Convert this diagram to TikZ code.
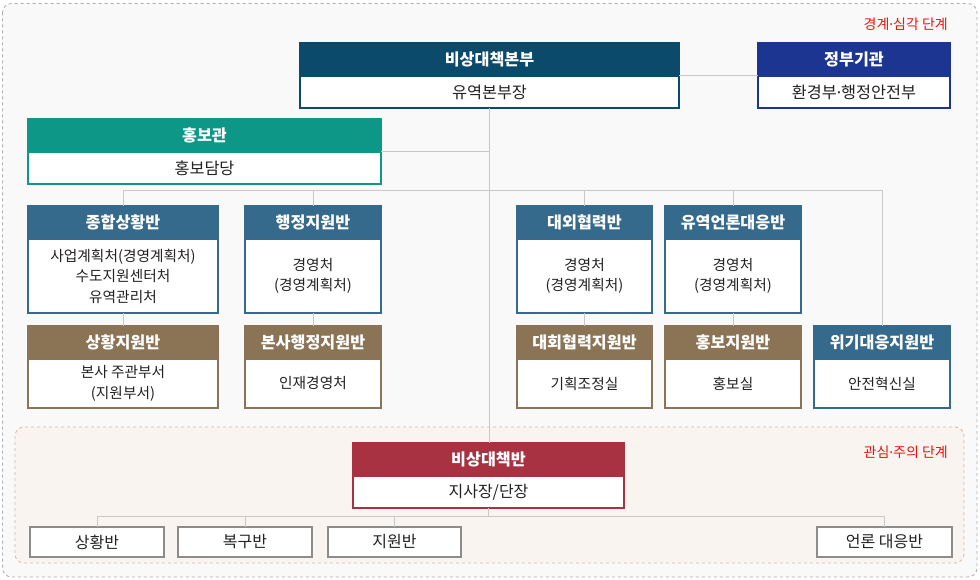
\documentclass[tikz,border=0pt]{standalone}
\usepackage{fontspec}
\setmainfont{Noto Sans CJK KR}
\newfontfamily\dotfont{Noto Sans}
\newcommand\mdot{{\dotfont ·}}
\definecolor{topc}{HTML}{0C4A6B}
\definecolor{govc}{HTML}{1B3591}
\definecolor{tealc}{HTML}{0C9787}
\definecolor{rowc}{HTML}{356A8C}
\definecolor{brownc}{HTML}{8B7355}
\definecolor{redc}{HTML}{A83241}
\definecolor{leafgray}{HTML}{8C8C8C}
\definecolor{linegray}{HTML}{C8C8C8}
\definecolor{txt}{HTML}{222222}
\definecolor{outerbg}{HTML}{F9F9F9}
\definecolor{outerln}{HTML}{A6ADB4}
\definecolor{innerbg}{HTML}{FAF4F1}
\definecolor{innerln}{HTML}{D9B9A3}
\definecolor{lblred}{HTML}{F01010}
\newcommand\hfont{\bfseries\fontsize{16.2}{19}\selectfont}
\newcommand\tfont{\fontsize{16.3}{19}\selectfont}
\newcommand\rfont{\fontsize{14.7}{20.5}\selectfont}
\newcommand\lfont{\fontsize{16}{19}\selectfont}
\newcommand\sfont{\fontsize{14}{16}\selectfont}
\tikzset{
  conn/.style={draw=linegray, line width=1pt},
  hdr/.style={inner sep=0pt, outer sep=0pt, line width=2pt, text=white, font=\hfont, align=center},
  bdy/.style={inner sep=0pt, outer sep=0pt, line width=2pt, fill=white, text=txt, align=center},
  leaf/.style={draw=leafgray, line width=2pt, fill=white, inner sep=0pt, outer sep=0pt, font=\lfont, text=txt, anchor=north west, minimum height=30},
  stagelbl/.style={text=lblred, font=\sfont, anchor=east, inner sep=0pt},
}
\newcommand\obox[9]{%
  \node[hdr, fill=#6, draw=#6, minimum width={#4-#2-2}, minimum height=33, anchor=north west] (#1h) at (#2+1,#3+1) {#7};
  \node[bdy, draw=#6, minimum width={#4-#2-2}, minimum height={#5-#3-35}, anchor=north, font=#9] (#1) at (#1h.south) {#8};
}
\begin{document}
\begin{tikzpicture}[x=1pt,y=-1pt]
\useasboundingbox (0,0) rectangle (980,580);
% backgrounds
\draw[draw=outerln, fill=outerbg, dashed, rounded corners=9pt, line width=0.8pt] (2.5,3.5) rectangle (977,577);
\draw[draw=innerln, fill=innerbg, dashed, rounded corners=9pt, line width=0.8pt] (15,427) rectangle (964,563);
\node[stagelbl] (lblA) at (948,24) {경계\mdot 심각 단계};
\node[stagelbl] (lblB) at (948,452) {관심\mdot 주의 단계};
% boxes
\obox{tb}{299}{42}{680}{109}{topc}{비상대책본부}{유역본부장}{\tfont}
\obox{gov}{757}{42}{951}{109}{govc}{정부기관}{환경부\mdot 행정안전부}{\tfont}
\obox{pr}{27}{118}{382}{185}{tealc}{홍보관}{홍보담당}{\tfont}
\obox{ra}{27}{205}{219}{314}{rowc}{종합상황반}{사업계획처(경영계획처)\\수도지원센터처\\유역관리처}{\rfont}
\obox{rb}{244}{205}{382}{314}{rowc}{행정지원반}{경영처\\(경영계획처)}{\rfont}
\obox{rc}{516}{205}{653}{314}{rowc}{대외협력반}{경영처\\(경영계획처)}{\rfont}
\obox{rd}{664}{205}{802}{314}{rowc}{유역언론대응반}{경영처\\(경영계획처)}{\rfont}
\obox{sa}{27}{325}{219}{409}{brownc}{상황지원반}{본사 주관부서\\(지원부서)}{\rfont}
\obox{sb}{244}{325}{382}{409}{brownc}{본사행정지원반}{인재경영처}{\rfont}
\obox{sc}{516}{325}{653}{409}{brownc}{대회협력지원반}{기획조정실}{\rfont}
\obox{sd}{664}{325}{802}{409}{brownc}{홍보지원반}{홍보실}{\rfont}
\obox{se}{813}{325}{951}{409}{rowc}{위기대응지원반}{안전혁신실}{\rfont}
\obox{em}{352}{442}{625}{509}{redc}{비상대책반}{지사장/단장}{\lfont}
\node[leaf, minimum width=134] (b1) at (30,527) {상황반};
\node[leaf, minimum width=134] (b2) at (178,527) {복구반};
\node[leaf, minimum width=133] (b3) at (328,527) {지원반};
\node[leaf, minimum width=135] (b4) at (817,527) {언론 대응반};
% connectors
\coordinate (bus) at (490,191);
\coordinate (bbus) at (490,516);
\draw[conn] (tbh.south east) -- (govh.south west);
\draw[conn] (tb.south) -- (tb.south |- emh.north);
\draw[conn] (prh.south east) -- (prh.south east -| tb.south);
\draw[conn] (rah.north) -- (rah.north |- bus) -- (seh.north |- bus) -- (seh.north);
\draw[conn] (rbh.north) -- (rbh.north |- bus);
\draw[conn] (rch.north) -- (rch.north |- bus);
\draw[conn] (rdh.north) -- (rdh.north |- bus);
\draw[conn] (ra.south) -- (sah.north);
\draw[conn] (rb.south) -- (sbh.north);
\draw[conn] (rc.south) -- (sch.north);
\draw[conn] (rd.south) -- (sdh.north);
\draw[conn] (em.south) -- (em.south |- bbus);
\draw[conn] (b1.north) -- (b1.north |- bbus) -- (b4.north |- bbus) -- (b4.north);
\draw[conn] (b2.north) -- (b2.north |- bbus);
\draw[conn] (b3.north) -- (b3.north |- bbus);
\end{tikzpicture}
\end{document}
